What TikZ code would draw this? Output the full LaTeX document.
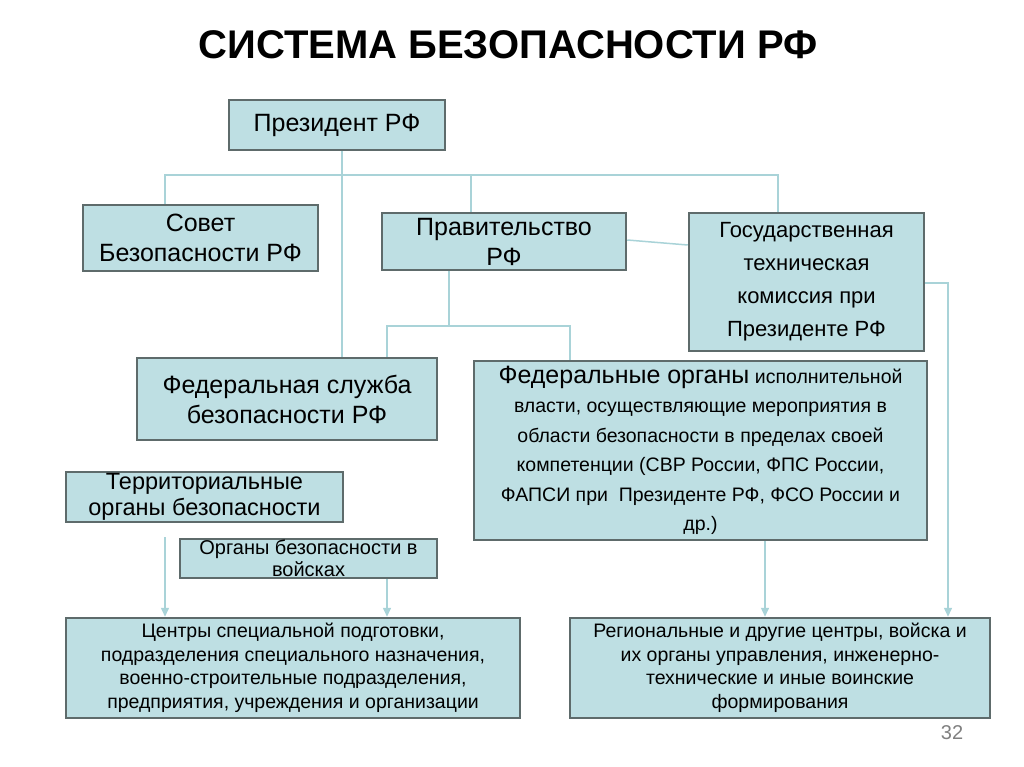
\documentclass[tikz,border=0pt]{standalone}
\usepackage{fontspec}
\setmainfont{Liberation Sans}
\usetikzlibrary{arrows.meta}
\definecolor{boxfill}{HTML}{BEDFE3}
\definecolor{boxline}{HTML}{5E6B6B}
\definecolor{conn}{HTML}{A9D3D8}
\begin{document}
\begin{tikzpicture}[x=1pt,y=-1pt,
  bx/.style={draw=boxline,line width=2.5pt,fill=boxfill,inner sep=1pt,align=center,font=\fontsize{25}{30}\selectfont},
  ln/.style={draw=conn,line width=1.5pt},
  ar/.style={ln,-{Triangle[width=8pt,length=9pt]}}]
\useasboundingbox (0,0) rectangle (1024,767);
\fill[white] (0,0) rectangle (1024,767);
\node[font=\bfseries\fontsize{40}{44}\selectfont] (title) at (508,45) {СИСТЕМА БЕЗОПАСНОСТИ РФ};
\newcommand{\bxat}[5]{\node[bx,#5,minimum width=#3-#1,minimum height=#4-#2] at ({(#1+#3)/2},{(#2+#4)/2})}
\bxat{229}{100}{445}{150}{} (pres) {Президент РФ};
\bxat{83}{205}{318}{271}{} (sov) {Совет\\Безопасности РФ};
\bxat{382}{213}{626}{270}{} (prav) {Правительство\\РФ};
\bxat{689}{213}{924}{351}{font=\fontsize{22}{33}\selectfont} (gtk) {Государственная\\техническая\\комиссия при\\Президенте РФ};
\bxat{137}{358}{437}{440}{} (fsb) {Федеральная служба\\безопасности РФ};
\bxat{474}{361}{927}{540}{font=\fontsize{19.5}{29.5}\selectfont} (fed) {{\fontsize{25}{29}\selectfont Федеральные органы} исполнительной\\власти, осуществляющие мероприятия в\\области безопасности в пределах своей\\компетенции (СВР России, ФПС России,\\ФАПСИ при\ \ Президенте РФ, ФСО России и\\др.)};
\bxat{66}{472}{343}{522}{font=\fontsize{23.5}{26}\selectfont} (terr) {Территориальные\\органы безопасности};
\bxat{180}{539}{437}{578}{font=\fontsize{20}{22}\selectfont} (voy) {Органы безопасности в\\войсках};
\bxat{66}{618}{520}{718}{font=\fontsize{19.5}{23.5}\selectfont} (cent) {Центры специальной подготовки,\\подразделения специального назначения,\\военно-строительные подразделения,\\предприятия, учреждения и организации};
\bxat{570}{618}{990}{718}{font=\fontsize{19.5}{23.5}\selectfont} (reg) {Региональные и другие центры, войска и\\их органы управления, инженерно-\\технические и иные воинские\\формирования};
\node[text=gray,font=\fontsize{20}{22}\selectfont] (pg) at (952,733) {32};
% connectors
\coordinate (b1) at (165,175); \coordinate (b2) at (778,175);
\draw[ln] (sov.north -| b1) -- (b1) -- (b2) -- (gtk.north -| b2);
\draw[ln] (prav.north -| 471,0) -- (471,175);
\draw[ln] (pres.south -| 342,0) -- (fsb.north -| 342,0);
\coordinate (g1) at (387,326); \coordinate (g2) at (570,326);
\draw[ln] (prav.south -| 449,0) -- (449,326);
\draw[ln] (g2 |- fed.north) -- (g2) -- (g1) -- (fsb.north -| g1);
\draw[ar] (voy.south -| g1) -- (cent.north -| g1);
\draw[ar] (165,537) -- (cent.north -| 165,0);
\draw[ln] (prav.east |- 0,240) -- (gtk.west |- 0,245);
\draw[ar] (gtk.east |- 0,283) -- (948,283) -- (reg.north -| 948,0);
\draw[ar] (fed.south -| 765,0) -- (reg.north -| 765,0);
\end{tikzpicture}
\end{document}
